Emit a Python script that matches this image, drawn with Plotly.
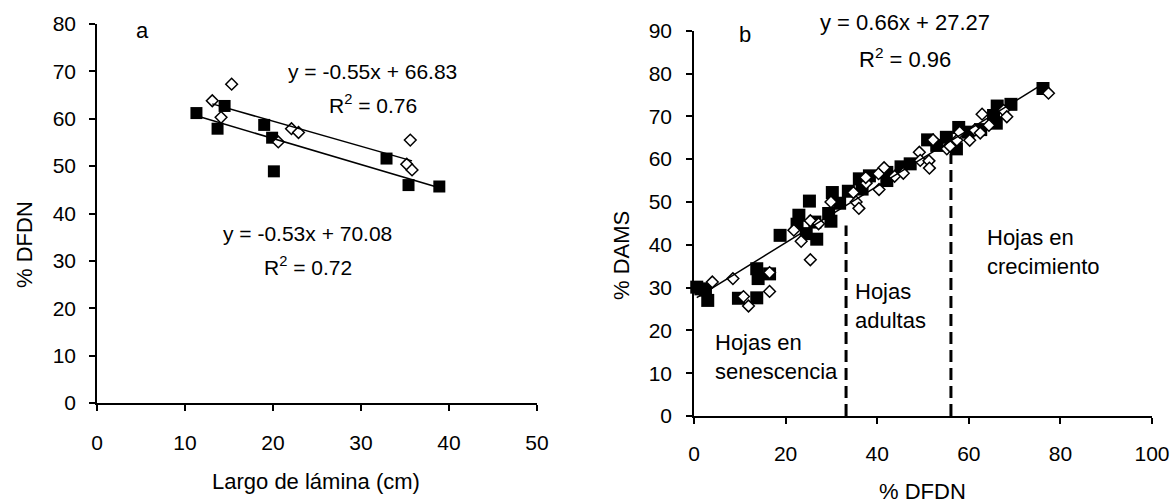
import plotly.graph_objects as go

# ---------------- Panel a data ----------------
a_sq_x = [11.3, 13.7, 14.5, 19.0, 19.9, 20.1, 32.9, 35.4, 38.9]
a_sq_y = [61.2, 57.9, 62.7, 58.7, 56.0, 48.9, 51.6, 46.0, 45.7]
a_di_x = [13.1, 15.3, 14.1, 20.6, 22.1, 22.9, 35.6, 35.2, 35.8]
a_di_y = [63.8, 67.3, 60.3, 55.1, 57.9, 57.1, 55.5, 50.4, 49.2]
a_fit_slope = [-0.55, -0.53]
a_fit_icpt = [66.83, 70.08]
a_fit_r2 = [0.76, 0.72]

# ---------------- Panel b data ----------------
b_sq_x = [0.6, 1.5, 2.5, 3.0, 9.7, 13.7, 13.7, 14.0, 16.5, 18.8, 22.5, 22.9, 24.5, 25.2,
          26.4, 26.8, 29.4, 29.9, 30.2, 31.8, 33.7, 36.1, 36.7, 38.3, 42.1, 42.1, 45.2,
          47.2, 51.0, 53.0, 55.1, 57.3, 57.8, 59.8, 62.6, 65.4, 66.0, 66.2, 69.2, 76.2]
b_sq_y = [30.1, 29.7, 29.4, 27.0, 27.5, 27.6, 34.4, 32.1, 33.2, 42.2, 44.8, 46.9, 42.6, 50.2,
          45.3, 41.3, 47.3, 45.5, 52.2, 49.7, 52.5, 55.4, 53.0, 56.1, 55.0, 56.9, 58.2,
          58.9, 64.5, 63.2, 65.1, 62.4, 67.4, 66.3, 66.9, 70.2, 68.4, 72.4, 72.8, 76.5]
b_di_x = [4.0, 8.5, 10.8, 11.9, 16.5, 16.5, 21.8, 23.4, 25.4, 25.4, 27.2, 29.9, 34.8, 35.4,
          36.0, 37.6, 37.5, 40.3, 40.4, 41.5, 43.8, 45.7, 49.2, 49.4, 51.3, 51.4, 52.2,
          55.2, 55.9, 57.4, 58.0, 60.2, 61.3, 62.5, 62.9, 64.4, 67.6, 68.3, 77.4]
b_di_y = [31.3, 32.1, 27.9, 25.7, 33.5, 29.1, 43.4, 40.8, 36.5, 45.6, 44.9, 50.0, 52.2, 50.0,
          48.5, 54.4, 55.7, 56.6, 52.9, 58.0, 56.0, 56.7, 61.6, 59.7, 59.6, 57.9, 64.5,
          62.4, 63.0, 64.4, 66.3, 64.4, 66.8, 66.1, 70.5, 67.9, 71.4, 69.9, 75.4]
b_fit_slope = 0.66
b_fit_icpt = 27.27
b_fit_r2 = 0.96
stage_x = [33.2, 56.1]
stage_top = [44.5, 61.2]
stage_labels = ["Hojas en<br>senescencia", "Hojas<br>adultas", "Hojas en<br>crecimiento"]

FONT = "Liberation Sans, Arial, sans-serif"

fig = go.Figure()

# Panel a markers
fig.add_trace(go.Scatter(x=a_sq_x, y=a_sq_y, mode="markers", xaxis="x", yaxis="y",
                         marker=dict(symbol="square", size=12, color="black"),
                         cliponaxis=False, showlegend=False))
fig.add_trace(go.Scatter(x=a_di_x, y=a_di_y, mode="markers", xaxis="x", yaxis="y",
                         marker=dict(symbol="diamond", size=9, color="white",
                                     line=dict(color="black", width=1.5)),
                         cliponaxis=False, showlegend=False))
# Panel a trend lines
for xs, m, c in [(a_sq_x, a_fit_slope[0], a_fit_icpt[0]), (a_di_x, a_fit_slope[1], a_fit_icpt[1])]:
    x0, x1 = min(xs), max(xs)
    fig.add_trace(go.Scatter(x=[x0, x1], y=[m * x0 + c, m * x1 + c], mode="lines",
                             xaxis="x", yaxis="y", line=dict(color="black", width=1.5),
                             showlegend=False))

# Panel b markers
fig.add_trace(go.Scatter(x=b_sq_x, y=b_sq_y, mode="markers", xaxis="x2", yaxis="y2",
                         marker=dict(symbol="square", size=13, color="black"),
                         cliponaxis=False, showlegend=False))
fig.add_trace(go.Scatter(x=b_di_x, y=b_di_y, mode="markers", xaxis="x2", yaxis="y2",
                         marker=dict(symbol="diamond", size=9, color="white",
                                     line=dict(color="black", width=1.5)),
                         cliponaxis=False, showlegend=False))
bx0, bx1 = min(b_sq_x), max(b_sq_x)
fig.add_trace(go.Scatter(x=[bx0, bx1], y=[b_fit_slope * bx0 + b_fit_icpt, b_fit_slope * bx1 + b_fit_icpt],
                         mode="lines", xaxis="x2", yaxis="y2",
                         line=dict(color="black", width=1.5), showlegend=False))
# Stage boundaries
for sx, st in zip(stage_x, stage_top):
    fig.add_trace(go.Scatter(x=[sx, sx], y=[0, st], mode="lines", xaxis="x2", yaxis="y2",
                             line=dict(color="black", width=3, dash="12px,6px"),
                             showlegend=False))

W, H = 1172, 504
def px_x(p):
    return p / W
def px_y(p):
    return 1 - p / H

axis_common = dict(showline=True, linecolor="black", linewidth=1.5, ticks="outside",
                   ticklen=6, tickwidth=1.5, tickcolor="black", showgrid=False,
                   zeroline=False, automargin=False,
                   tickfont=dict(family=FONT, size=21, color="black"))

fig.update_layout(
    width=W, height=H, margin=dict(l=0, r=0, t=0, b=0),
    paper_bgcolor="white", plot_bgcolor="white", showlegend=False,
    xaxis=dict(domain=[px_x(97), px_x(537)], range=[0, 50], dtick=10, anchor="y",
               ticklabelstandoff=14, **axis_common),
    yaxis=dict(domain=[px_y(403), px_y(24)], range=[0, 80], dtick=10, anchor="x",
               ticklabelstandoff=9, **axis_common),
    xaxis2=dict(domain=[px_x(694), px_x(1152)], range=[0, 100], dtick=20, anchor="y2",
                ticklabelstandoff=12, **axis_common),
    yaxis2=dict(domain=[px_y(416), px_y(30.7)], range=[0, 90], dtick=10, anchor="x2",
                ticklabelstandoff=10, **axis_common),
)

def ann(text, x, y, size=20, xanchor="center", angle=0):
    fig.add_annotation(text=text, x=px_x(x), y=px_y(y), xref="paper", yref="paper",
                       showarrow=False, xanchor=xanchor, yanchor="middle", textangle=angle,
                       font=dict(family=FONT, size=size, color="black"), align="left")

# Panel a texts
ann("a", 142, 30, size=22)
ann(f"y = {a_fit_slope[0]:.2f}x + {a_fit_icpt[0]:.2f}", 372, 72, size=21)
ann(f"R<sup>2</sup> = {a_fit_r2[0]:.2f}", 373, 104, size=21)
ann(f"y = {a_fit_slope[1]:.2f}x + {a_fit_icpt[1]:.2f}", 307, 233, size=21)
ann(f"R<sup>2</sup> = {a_fit_r2[1]:.2f}", 308, 266, size=21)
ann("% DFDN", 24, 245, size=22, angle=-90)
ann("Largo de lámina (cm)", 316, 481, size=22)

# Panel b texts
ann("b", 745, 35, size=22)
ann(f"y = {b_fit_slope:.2f}x + {b_fit_icpt:.2f}", 905, 23, size=22)
ann(f"R<sup>2</sup> = {b_fit_r2:.2f}", 905, 58, size=22)
ann(stage_labels[0], 713, 357, size=22, xanchor="left")
ann(stage_labels[1], 853, 306, size=22, xanchor="left")
ann(stage_labels[2], 985, 252, size=22, xanchor="left")
ann("% DAMS", 621, 255, size=22, angle=-90)
ann("% DFDN", 922, 491, size=22)

fig.write_html("out.html", config={"displayModeBar": False},
               post_script="document.body.style.margin='0px';")
